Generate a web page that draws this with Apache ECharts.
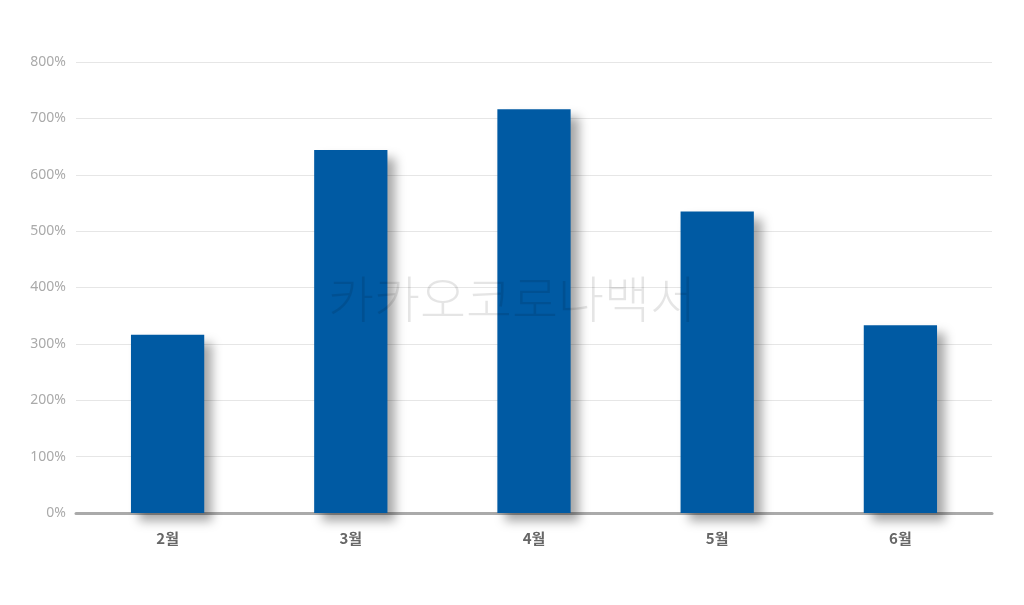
<!DOCTYPE html>
<html><head><meta charset="utf-8">
<script src="https://cdn.jsdelivr.net/npm/echarts@6/dist/echarts.min.js"></script>
<style>html,body{margin:0;padding:0;background:#fff}#c{width:1024px;height:605px}</style>
</head><body><div id="c"></div>
<script>
var categories = ['2월','3월','4월','5월','6월'];
var values = [316, 644, 716, 535, 333];
var watermark = '카카오코로나백서';
var chart = echarts.init(document.getElementById('c'));
chart.setOption({
  animation: false,
  grid: {left: 76, right: 32, top: 62, bottom: 92},
  xAxis: {
    type: 'category', data: categories,
    axisLine: {lineStyle: {color: '#aaaaaa', width: 3}},
    axisTick: {show: false},
    axisLabel: {color: '#666666', fontSize: 15, fontWeight: 'bold', margin: 18, fontFamily: 'Noto Sans CJK KR'}
  },
  yAxis: {
    type: 'value', min: 0, max: 800, interval: 100,
    axisLine: {show: false}, axisTick: {show: false},
    axisLabel: {color: '#aaaaaa', fontSize: 14, formatter: '{value}%', margin: 10, fontFamily: 'Noto Sans'},
    splitLine: {lineStyle: {color: '#e6e6e6', width: 1}}
  },
  series: [{
    type: 'bar', data: values, barWidth: '40%',
    itemStyle: {color: '#005aa3', shadowColor: 'rgba(0,0,0,0.35)', shadowBlur: 10, shadowOffsetX: 8, shadowOffsetY: 8}
  }],
  graphic: [{
    type: 'text', left: 'center', top: 274, z: 100,
    style: {text: watermark, fontSize: 50, fontWeight: 300, fontFamily: 'Noto Sans CJK KR', fill: 'rgba(0,0,0,0.1)'}
  }]
});
</script></body></html>
